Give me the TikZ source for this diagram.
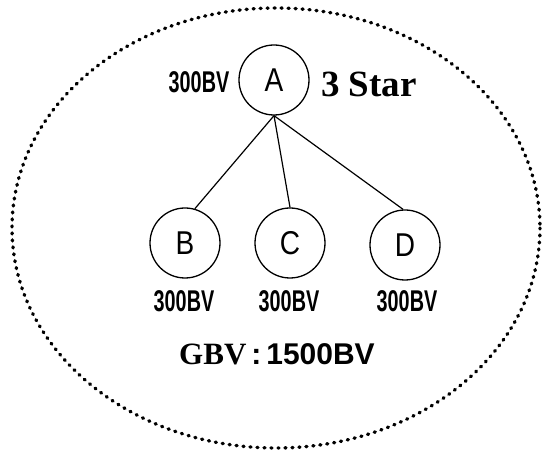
\documentclass[tikz,border=0pt]{standalone}
\usepackage{fontspec,graphicx}
\setmainfont{Liberation Serif}
\setsansfont{Liberation Sans}
\usetikzlibrary{positioning}

\begin{document}
\begin{tikzpicture}[x=1pt,y=-1pt,
  member/.style={circle,draw,line width=1.3pt,minimum size=70pt,inner sep=0pt,
                 font=\sffamily\fontsize{33}{33}\selectfont},
  bvlabel/.style={font=\sffamily\bfseries\fontsize{30}{30}\selectfont,inner sep=0pt},
  edge/.style={line width=1.2pt}
]
\useasboundingbox (0,0) rectangle (542,454);

% Group boundary
\draw[line width=3.4pt,line cap=round,dash pattern=on 1pt off 6pt]
  (276,228) ellipse [x radius=264, y radius=220];

% Top: leader A
\node[member] (a) at (274,80) {\scalebox{0.85}[1]{A}};
\node[bvlabel] (la) at (199,82) {\scalebox{0.66}[1]{300BV}};
\node[font=\rmfamily\bfseries\fontsize{37}{37}\selectfont,inner sep=0pt]
      (star) at (369,84) {3 Star};

% Row 2: members B, C, D
\node[member] (b) at (185,243) {\scalebox{0.85}[1]{B}};
\node[member] (c) at (290,243) {\scalebox{0.85}[1]{C}};
\node[member] (d) at (405,245) {\scalebox{0.85}[1]{D}};

\draw[edge] (a.south) -- (b.74);
\draw[edge] (a.south) -- (c.north);
\draw[edge] (a.south) -- (d.93);

\node[bvlabel] (lb) at (184,301) {\scalebox{0.66}[1]{300BV}};
\node[bvlabel] (lc) at (289,301) {\scalebox{0.66}[1]{300BV}};
\node[bvlabel] (ld) at (407,301) {\scalebox{0.66}[1]{300BV}};

% Group total
\node[inner sep=0pt] (gbv) at (277,354)
  {{\rmfamily\bfseries\fontsize{31}{31}\selectfont GBV}{\sffamily\bfseries\fontsize{30}{30}\selectfont\,:\,1500BV}};

\end{tikzpicture}
\end{document}
